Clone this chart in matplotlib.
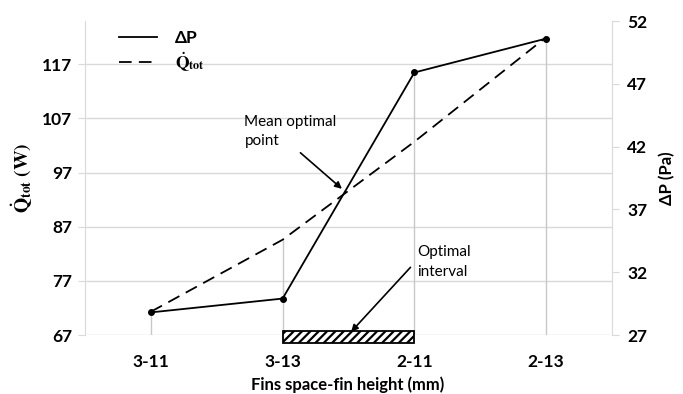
import numpy as np
import matplotlib
matplotlib.use("Agg")
import matplotlib.pyplot as plt
from matplotlib.patches import Rectangle

plt.rcParams['font.family'] = ['Lato', 'DejaVu Sans']
plt.rcParams['mathtext.fontset'] = 'stix'
plt.rcParams['hatch.linewidth'] = 1.6

# data
cats = ["3-11", "3-13", "2-11", "2-13"]
q_tot = [71.3, 84.6, 102.7, 122.0]   # W, left axis
dp = [28.8, 29.9, 47.9, 50.6]        # Pa, right axis

left_ticks = [67, 77, 87, 97, 107, 117]
right_ticks = [27, 32, 37, 42, 47, 52]

grid_c = "#d9d9d9"

fig = plt.figure(figsize=(6.83, 3.94), dpi=100)
ax = fig.add_axes([85/683, 59/394, 527/683, 314/394])
ax2 = ax.twinx()

x = np.arange(len(cats)) + 0.5
ax.set_xlim(0, 4)
ax.set_ylim(67, 125)
ax2.set_ylim(27, 52)

# gridlines + drop lines
for t in left_ticks:
    ax.axhline(t, color=grid_c, lw=1, zorder=0)
dp_left = [67 + (d - 27) * 58 / 25 for d in dp]
tops = [max(a, b) for a, b in zip(q_tot, dp_left)]
ax.vlines(x, 67, tops, color="#c8c8c8", lw=1, zorder=1)

ax.plot(x, q_tot, color="black", lw=1.3, dashes=(7, 4), label=r'$\mathbf{\dot{Q}_{tot}}$', zorder=3)
ax2.plot(x, dp, color="black", lw=1.3, marker="o", ms=4, label="ΔP", zorder=3)

# optimal interval box
rect = Rectangle((x[1], 65.6), x[2] - x[1], 2.2, facecolor="white", edgecolor="black",
                 hatch="////", lw=1.3, clip_on=False, zorder=4)
ax.add_patch(rect)

ax.set_xticks(x)
ax.set_xticklabels(cats, fontsize=12.5, fontweight="bold")
ax.tick_params(axis="x", length=0, pad=14)
ax.set_yticks(left_ticks)
ax.set_yticklabels([str(t) for t in left_ticks], fontsize=12.5, fontweight="bold")
ax.tick_params(axis="y", color=grid_c, length=5, pad=4)
ax2.set_yticks(right_ticks)
ax2.set_yticklabels([str(t) for t in right_ticks], fontsize=12.5, fontweight="bold")
ax2.tick_params(axis="y", color=grid_c, length=5, pad=6)

for a in (ax, ax2):
    for s in a.spines.values():
        s.set_visible(False)
ax.spines["left"].set_visible(True)
ax.spines["left"].set_color(grid_c)
ax2.spines["right"].set_visible(True)
ax2.spines["right"].set_color(grid_c)

ax.set_ylabel(r'$\mathbf{\dot{Q}_{tot}\ (W)}$', fontsize=14, labelpad=5)
ax2.set_ylabel("ΔP (Pa)", fontsize=12, fontweight="bold", labelpad=8)
fig.text(348/683, 9/394, "Fins space-fin height (mm)", fontsize=12, fontweight="bold",
         ha="center", va="center")

# annotations
ax.annotate("Mean optimal\npoint", xy=(1.95, 94.0), xytext=(1.21, 104.6),
            fontsize=11, ha="left", va="center", linespacing=1.5,
            arrowprops=dict(arrowstyle="-|>", color="black", lw=1.2,
                            shrinkA=2, shrinkB=0, mutation_scale=10,
                            relpos=(0.55, 0.0)))
ax.annotate("Optimal\ninterval", xy=(2.02, 67.6), xytext=(2.52, 80.5),
            fontsize=11, ha="left", va="center", linespacing=1.5,
            arrowprops=dict(arrowstyle="-|>", color="black", lw=1.2,
                            shrinkA=4, shrinkB=0, mutation_scale=10,
                            relpos=(0.0, 0.55)))

h1, l1 = ax2.get_legend_handles_labels()
h2, l2 = ax.get_legend_handles_labels()
leg = ax.legend(h1 + h2, l1 + l2, loc="upper left", bbox_to_anchor=(0.035, 1.02),
                frameon=False, handlelength=2.2, handletextpad=1.0, labelspacing=0.25,
                prop={"weight": "bold", "size": 12.5})
for line in leg.get_lines():
    line.set_marker("")

fig.savefig("out.png", dpi=100)
